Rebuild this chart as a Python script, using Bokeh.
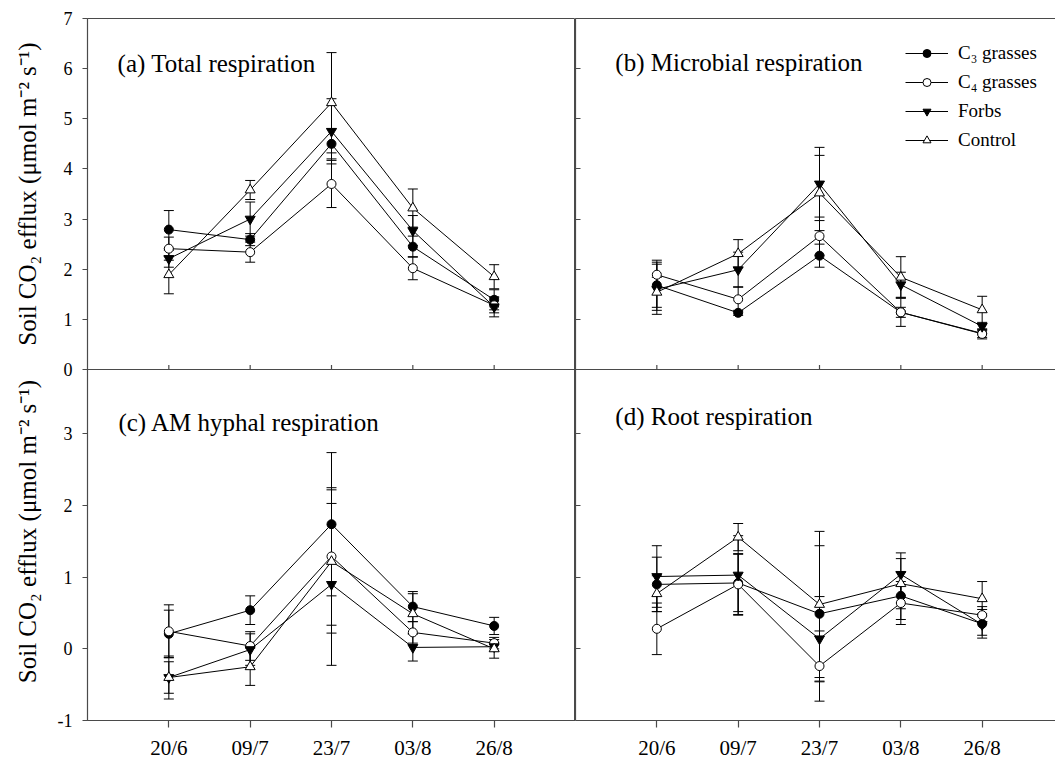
import math
from bokeh.plotting import figure
from bokeh.models import (ColumnDataSource, Whisker, TeeHead, FixedTicker, Range1d,
                          Label, Legend, LegendItem, LinearAxis, Span)
from bokeh.core.properties import value
from bokeh.layouts import gridplot
from bokeh.embed import file_html
from bokeh.resources import INLINE

# ---------------- data ----------------
dates = ["20/6", "09/7", "23/7", "03/8", "26/8"]
x_pos = [1, 2, 3, 4, 5]
series_names = ["C\u2083 grasses", "C\u2084 grasses", "Forbs", "Control"]

# (a) Total respiration
a_c3 = [2.79, 2.59, 4.50, 2.45, 1.39]
a_c3_se = [0.38, 0.12, 0.30, 0.21, 0.20]
a_c4 = [2.41, 2.34, 3.70, 2.02, 1.28]
a_c4_se = [0.23, 0.20, 0.47, 0.23, 0.15]
a_forbs = [2.21, 3.00, 4.75, 2.77, 1.25]
a_forbs_se = [0.17, 0.34, 0.65, 0.30, 0.20]
a_ctrl = [1.89, 3.58, 5.32, 3.22, 1.85]
a_ctrl_se = [0.38, 0.19, 1.00, 0.38, 0.24]

# (b) Microbial respiration
b_c3 = [1.68, 1.13, 2.27, 1.14, 0.72]
b_c3_se = [0.50, 0.05, 0.23, 0.28, 0.08]
b_c4 = [1.89, 1.40, 2.66, 1.14, 0.71]
b_c4_se = [0.25, 0.25, 0.38, 0.10, 0.10]
b_forbs = [1.60, 1.99, 3.70, 1.69, 0.86]
b_forbs_se = [0.50, 0.35, 0.73, 0.25, 0.08]
b_ctrl = [1.54, 2.31, 3.52, 1.84, 1.19]
b_ctrl_se = [0.30, 0.28, 0.75, 0.41, 0.27]

# (c) AM hyphal respiration
c_c3 = [0.21, 0.54, 1.74, 0.59, 0.32]
c_c3_se = [0.33, 0.20, 1.00, 0.21, 0.12]
c_c4 = [0.245, 0.04, 1.29, 0.23, 0.08]
c_c4_se = [0.37, 0.20, 0.96, 0.15, 0.08]
c_forbs = [-0.40, -0.01, 0.90, 0.02, 0.03]
c_forbs_se = [0.30, 0.22, 1.13, 0.19, 0.06]
c_ctrl = [-0.40, -0.25, 1.22, 0.49, 0.00]
c_ctrl_se = [0.22, 0.26, 1.00, 0.28, 0.13]

# (d) Root respiration
d_c3 = [0.90, 0.92, 0.49, 0.74, 0.35]
d_c3_se = [0.38, 0.40, 0.95, 0.33, 0.20]
d_c4 = [0.28, 0.90, -0.24, 0.64, 0.47]
d_c4_se = [0.36, 0.43, 0.49, 0.30, 0.12]
d_forbs = [1.01, 1.03, 0.14, 1.04, 0.34]
d_forbs_se = [0.43, 0.55, 0.59, 0.30, 0.15]
d_ctrl = [0.77, 1.56, 0.62, 0.91, 0.70]
d_ctrl_se = [0.25, 0.19, 1.02, 0.35, 0.24]

top_yticks = [0, 1, 2, 3, 4, 5, 6, 7]
bot_yticks = [-1, 0, 1, 2, 3]
y_titles = ["Soil CO\u2082 efflux (\u03bcmol m\u207b\u00b2 s\u207b\u00b9)"] * 2

# ---------------- layout / styles ----------------
FONT = "Liberation Serif"
AX = "#4a4a4a"
MARKERS = [
    dict(marker="circle", size=9, fill_color="black"),
    dict(marker="circle", size=9, fill_color="white"),
    dict(marker="inverted_triangle", size=10, fill_color="black"),
    dict(marker="triangle", size=10, fill_color="white"),
]
FRAME_H = 702
LEFT_W = 488
RIGHT_W = 480
LABEL_W = 45
X_UNIT = LEFT_W / 6.0
Y_UNIT = FRAME_H / 14.0
TOP_RANGE = (-7.0, 7.0)   # upper panels occupy 0..7 (top half of the frame)
BOT_RANGE = (-1.0, 8.8)   # lower panels occupy -1..3.9 (bottom half)


def bot_to_main(v):
    return TOP_RANGE[0] + (v - BOT_RANGE[0]) * (TOP_RANGE[1] - TOP_RANGE[0]) / (BOT_RANGE[1] - BOT_RANGE[0])


main_labels = {float(t): str(t) for t in top_yticks}
for v in bot_yticks:
    main_labels[bot_to_main(v)] = str(v)
main_ticks = sorted(main_labels.keys())


def style_axis(ax):
    ax.axis_line_color = AX
    ax.axis_line_width = 1.2
    ax.major_tick_line_color = AX
    ax.major_tick_line_width = 1.2
    ax.minor_tick_line_color = None
    ax.major_label_text_font = FONT
    ax.major_label_text_color = "black"


def hide_labels(ax, ticks):
    ax.major_label_overrides = {t: "" for t in ticks}
    ax.major_label_text_font_size = "1px"
    ax.major_label_standoff = 0
    ax.major_tick_out = 0
    ax.major_tick_in = 5


def draw_series(p, series, range_name):
    items = []
    for name, (vals, se), mk in zip(series_names, series, MARKERS):
        src = ColumnDataSource(dict(x=x_pos, y=vals,
                                    upper=[v + e for v, e in zip(vals, se)],
                                    lower=[v - e for v, e in zip(vals, se)]))
        w = Whisker(source=src, base="x", upper="upper", lower="lower",
                    line_color="black", line_width=1, level="underlay",
                    y_range_name=range_name,
                    upper_head=TeeHead(size=10, line_color="black", line_width=1),
                    lower_head=TeeHead(size=10, line_color="black", line_width=1))
        p.add_layout(w)
        lr = p.line("x", "y", source=src, line_color="black", line_width=1,
                    y_range_name=range_name)
        sr = p.scatter("x", "y", source=src, marker=mk["marker"], size=mk["size"],
                       fill_color=mk["fill_color"], line_color="black", line_width=1,
                       y_range_name=range_name)
        items.append(LegendItem(label=name, renderers=[lr, sr]))
    return items


def make_column(is_left, top_series, bot_series, top_title, top_xy, bot_title, bot_xy):
    frame_w = LEFT_W if is_left else RIGHT_W
    p = figure(frame_width=frame_w, frame_height=FRAME_H,
               x_range=Range1d(0, frame_w / X_UNIT), y_range=Range1d(*TOP_RANGE),
               output_backend="svg", toolbar_location=None,
               min_border_left=(87 - LABEL_W) if is_left else 0, min_border_right=0,
               min_border_top=18, min_border_bottom=39,
               outline_line_color=AX if is_left else None, outline_line_width=1,
               background_fill_color="white", border_fill_color="white")
    p.extra_y_ranges = {"bot": Range1d(*BOT_RANGE)}
    p.xgrid.visible = False
    p.ygrid.visible = False

    xa = p.xaxis[0]
    style_axis(xa)
    xa.ticker = FixedTicker(ticks=x_pos)
    xa.major_label_overrides = {x: d for x, d in zip(x_pos, dates)}
    xa.major_tick_in = 0
    xa.major_tick_out = 7
    xa.major_label_standoff = 8
    xa.major_label_text_font_size = "21px"

    ya = p.yaxis[0]
    style_axis(ya)
    ya.ticker = FixedTicker(ticks=main_ticks)
    if is_left:
        ya.major_label_overrides = main_labels
        ya.major_tick_in = 0
        ya.major_tick_out = 5
        ya.major_label_standoff = 10
        ya.major_label_text_font_size = "18px"
    else:
        hide_labels(ya, main_ticks)
        top_ax = LinearAxis(ticker=FixedTicker(ticks=[]))
        style_axis(top_ax)
        top_ax.major_label_text_font_size = "1px"
        top_ax.major_label_standoff = 0
        top_ax.major_tick_out = 0
        top_ax.major_tick_in = 0
        p.add_layout(top_ax, "above")

    # divider between upper and lower panel, with the upper panel's inner date ticks
    p.add_layout(Span(location=0, dimension="width", line_color=AX, line_width=1.2))
    p.segment(x0=x_pos, y0=[0] * 5, x1=x_pos, y1=[0.09] * 5, line_color=AX, line_width=1.2)

    items = draw_series(p, top_series, "default")
    draw_series(p, bot_series, "bot")

    p.add_layout(Label(x=top_xy[0], y=top_xy[1], text=top_title, text_font=FONT,
                       text_font_size="25px", text_color="black", text_baseline="alphabetic"))
    p.add_layout(Label(x=bot_xy[0], y=bot_xy[1], text=bot_title, text_font=FONT,
                       text_font_size="25px", text_color="black", text_baseline="alphabetic",
                       y_range_name="bot"))
    return p, items


# narrow strip that carries the two rotated y-axis titles; its frame is aligned with the panels
lab = figure(frame_width=LABEL_W, frame_height=FRAME_H,
             x_range=Range1d(0, LABEL_W), y_range=Range1d(*TOP_RANGE),
             output_backend="svg", toolbar_location=None,
             x_axis_location=None, y_axis_location=None,
             min_border_left=0, min_border_right=0, min_border_top=18, min_border_bottom=39,
             outline_line_color=None, background_fill_color="white", border_fill_color="white")
lab.xgrid.visible = False
lab.ygrid.visible = False
lab.text(x=[27, 27], y=[175.5 / Y_UNIT, -162.0 / Y_UNIT], text=y_titles, angle=math.pi / 2,
         text_font=value(FONT), text_font_size="25px", text_color="black",
         text_align="center", text_baseline="middle")

left, _ = make_column(True,
                      [(a_c3, a_c3_se), (a_c4, a_c4_se), (a_forbs, a_forbs_se), (a_ctrl, a_ctrl_se)],
                      [(c_c3, c_c3_se), (c_c4, c_c4_se), (c_forbs, c_forbs_se), (c_ctrl, c_ctrl_se)],
                      "(a) Total respiration", (0.37, 6.1),
                      "(c) AM hyphal respiration", (0.38, 3.16))
right, legend_items = make_column(False,
                                  [(b_c3, b_c3_se), (b_c4, b_c4_se), (b_forbs, b_forbs_se), (b_ctrl, b_ctrl_se)],
                                  [(d_c3, d_c3_se), (d_c4, d_c4_se), (d_forbs, d_forbs_se), (d_ctrl, d_ctrl_se)],
                                  "(b) Microbial respiration", (0.49, 6.13),
                                  "(d) Root respiration", (0.49, 3.24))

legend = Legend(items=legend_items, location=(330, 569),
                border_line_color=None, background_fill_alpha=0,
                padding=0, margin=0, spacing=7, label_height=20, glyph_height=20,
                glyph_width=43, label_standoff=10,
                label_text_font=FONT, label_text_font_size="19px", label_text_color="black")
right.add_layout(legend)

grid = gridplot([[lab, left, right]], toolbar_location=None)

open("out.html", "w").write(file_html(grid, INLINE))
